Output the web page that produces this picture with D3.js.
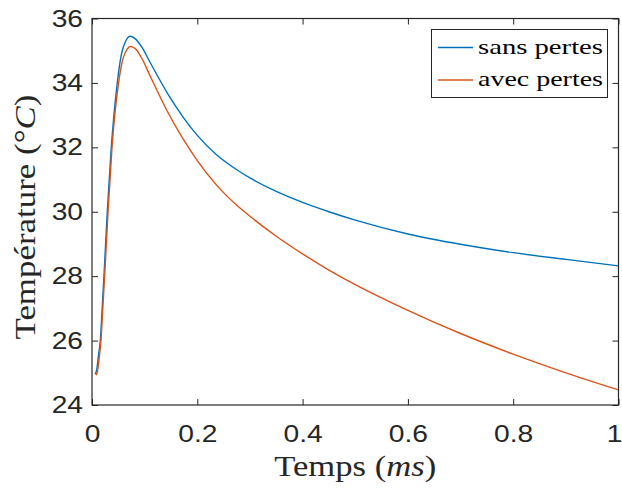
<!DOCTYPE html>
<html>
<head>
<meta charset="utf-8">
<script src="https://cdn.jsdelivr.net/npm/d3@7/dist/d3.min.js"></script>
<style>
  html, body { margin: 0; padding: 0; background: #fff; }
  svg { display: block; }
</style>
</head>
<body>
<svg id="chart" width="622" height="488"></svg>
<script>
// ---- data ----
const timeSans = [0.006, 0.009, 0.012, 0.016, 0.019, 0.023, 0.029, 0.036, 0.048, 0.056, 0.064, 0.073, 0.083, 0.095, 0.11, 0.144, 0.173, 0.2, 0.237, 0.28, 0.3, 0.35, 0.4, 0.45, 0.5, 0.6, 0.7, 0.8, 0.9, 1.0];
const tempSans = [24.96, 25.1, 25.5, 26.05, 26.9, 28.1, 30.0, 31.85, 34.0, 34.9, 35.3, 35.45, 35.36, 35.1, 34.65, 33.66, 32.94, 32.37, 31.76, 31.25, 31.05, 30.63, 30.29, 30.0, 29.74, 29.31, 28.99, 28.73, 28.52, 28.32];
const timeAvec = [0.008, 0.011, 0.014, 0.017, 0.0205, 0.024, 0.0305, 0.038, 0.0505, 0.058, 0.065, 0.073, 0.083, 0.095, 0.11, 0.144, 0.173, 0.2, 0.237, 0.28, 0.3, 0.35, 0.4, 0.45, 0.5, 0.6, 0.7, 0.8, 0.9, 1.0];
const tempAvec = [24.92, 25.1, 25.5, 26.0, 27.0, 28.0, 30.0, 32.0, 34.0, 34.7, 35.0, 35.13, 35.05, 34.75, 34.23, 33.09, 32.26, 31.59, 30.82, 30.13, 29.86, 29.24, 28.69, 28.19, 27.74, 26.94, 26.22, 25.58, 25.0, 24.47];
const seriesNames = ["sans pertes", "avec pertes"];
const seriesColors = ["#0072BD", "#D95319"];
const xTicks = [0, 0.2, 0.4, 0.6, 0.8, 1];
const xTickLabels = ["0", "0.2", "0.4", "0.6", "0.8", "1"];
const yTicks = [24, 26, 28, 30, 32, 34, 36];
const yTickLabels = ["24", "26", "28", "30", "32", "34", "36"];

// ---- layout ----
const L = 92, R = 618.5, T = 18.5, B = 405;
const SX = 1.2; // horizontal stretch of the glyphs in the reference
const svg = d3.select("#chart");
const x = d3.scaleLinear().domain([0, 1]).range([L, R]);
const y = d3.scaleLinear().domain([24, 36]).range([B, T]);
const axisColor = "#262626";
const tickFont = "'Liberation Sans', Arial, sans-serif";
const serif = "'Liberation Serif', 'Times New Roman', serif";

svg.append("rect").attr("x", L).attr("y", T).attr("width", R - L).attr("height", B - T).attr("fill", "#fff");

// lines
const series = [
  { t: timeSans, v: tempSans },
  { t: timeAvec, v: tempAvec }
];
const line = d3.line().x(d => x(d[0])).y(d => y(d[1])).curve(d3.curveMonotoneX);
series.forEach((s, i) => {
  svg.append("path")
    .datum(s.t.map((t, k) => [t, s.v[k]]))
    .attr("fill", "none")
    .attr("stroke", seriesColors[i])
    .attr("stroke-width", 1.4)
    .attr("d", line);
});

// axes (MATLAB-like: ticks inward, box on)
function styleAxis(g) {
  g.select(".domain").remove();
  g.selectAll(".tick line").attr("stroke", axisColor).attr("stroke-width", 1);
  g.selectAll(".tick text").attr("fill", axisColor).attr("font-family", tickFont).attr("font-size", 23.5);
}
const xAxis = svg.append("g").attr("transform", `translate(0,${B})`)
  .call(d3.axisBottom(x).tickValues(xTicks).tickFormat((d, i) => xTickLabels[i]).tickSizeInner(-6).tickSizeOuter(0).tickPadding(20));
styleAxis(xAxis);
xAxis.selectAll(".tick text").attr("dy", "0.71em").attr("transform", `scale(${SX},1)`);
xAxis.selectAll(".tick").filter(d => d === 1).select("text").attr("x", -4.5 / SX);
const xAxisTop = svg.append("g").attr("transform", `translate(0,${T})`)
  .call(d3.axisTop(x).tickValues(xTicks).tickFormat("").tickSizeInner(-6).tickSizeOuter(0));
styleAxis(xAxisTop);
const yAxis = svg.append("g").attr("transform", `translate(${L},0)`)
  .call(d3.axisLeft(y).tickValues(yTicks).tickFormat((d, i) => yTickLabels[i]).tickSizeInner(-6).tickSizeOuter(0).tickPadding(9));
styleAxis(yAxis);
yAxis.selectAll(".tick text").attr("x", -9 / SX).attr("transform", `scale(${SX},1)`);
const yAxisRight = svg.append("g").attr("transform", `translate(${R},0)`)
  .call(d3.axisRight(y).tickValues(yTicks).tickFormat("").tickSizeInner(-6).tickSizeOuter(0));
styleAxis(yAxisRight);

// frame
svg.append("rect").attr("x", L).attr("y", T).attr("width", R - L).attr("height", B - T)
  .attr("fill", "none").attr("stroke", axisColor).attr("stroke-width", 1.2);

// axis titles
const xt = svg.append("text").attr("x", (L + R) / 2).attr("y", 476)
  .attr("text-anchor", "middle").attr("font-family", serif).attr("font-size", 29).attr("fill", axisColor)
  .attr("textLength", 162).attr("lengthAdjust", "spacingAndGlyphs");
xt.append("tspan").text("Temps (");
xt.append("tspan").attr("font-style", "italic").text("ms");
xt.append("tspan").text(")");

const yt = svg.append("text").attr("transform", `translate(35,${217}) rotate(-90)`)
  .attr("text-anchor", "middle").attr("font-family", serif).attr("font-size", 29).attr("fill", axisColor)
  .attr("textLength", 245).attr("lengthAdjust", "spacingAndGlyphs");
yt.append("tspan").text("Température (°");
yt.append("tspan").attr("font-style", "italic").text("C");
yt.append("tspan").text(")");

// legend
const lg = svg.append("g");
lg.append("rect").attr("x", 431.5).attr("y", 29.5).attr("width", 176).attr("height", 68)
  .attr("fill", "#fff").attr("stroke", axisColor).attr("stroke-width", 1);
const legY = [47.5, 80];
seriesNames.forEach((name, i) => {
  lg.append("line").attr("x1", 438).attr("x2", 473).attr("y1", legY[i]).attr("y2", legY[i])
    .attr("stroke", seriesColors[i]).attr("stroke-width", 1.4);
  lg.append("text").attr("x", 478).attr("y", legY[i] + 6).attr("font-family", serif).attr("font-size", 21)
    .attr("fill", "#000").attr("textLength", 125).attr("lengthAdjust", "spacingAndGlyphs").text(name);
});
</script>
</body>
</html>
